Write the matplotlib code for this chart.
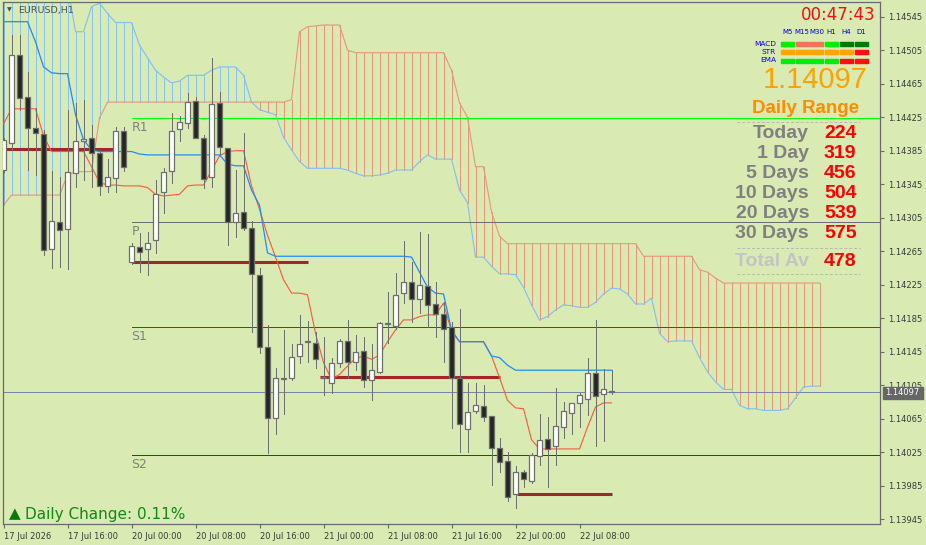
import numpy as np
import matplotlib
matplotlib.use("Agg")
import matplotlib.pyplot as plt
from matplotlib.patches import Rectangle

W, H = 926, 545
BG = '#d9eab3'
BASE = 1.14000   # prices below are stored in points (1e-5) above BASE
PX = 0.72        # one pixel line width at 100 dpi

# ---- EURUSD H1 candles, 17 Jul 08:00 .. 22 Jul 12:00
time_labels = ['17 Jul 2026', '17 Jul 16:00', '20 Jul 00:00', '20 Jul 08:00', '20 Jul 16:00',
               '21 Jul 00:00', '21 Jul 08:00', '21 Jul 16:00', '22 Jul 00:00', '22 Jul 08:00']
open_pts = [362, 394, 499, 449, 412, 405, 268, 300, 292, 358, 396, 400, 382, 343, 353, 409,
            252, 270, 268, 278, 336, 361, 411, 418, 444, 400, 354, 442, 388, 300, 312, 293, 237, 151, 66, 112, 114, 140, 157, 155,
            115, 108, 132, 158, 133, 146, 111, 121, 178, 176, 215, 228, 208, 224, 202, 190, 175, 114, 53, 74, 80, 68, 30, 15,
            -25, 1, -9, 20, 41, 32, 55, 72, 84, 89, 120, 95, 98]
high_pts = [400, 523, 523, 479, 436, 410, 361, 354, 434, 442, 446, 416, 386, 375, 413, 413,
            275, 287, 288, 350, 364, 430, 427, 454, 449, 404, 496, 455, 388, 362, 406, 301, 245, 177, 126, 171, 154, 189, 182, 169,
            163, 137, 160, 183, 165, 163, 154, 180, 216, 239, 277, 252, 288, 286, 228, 204, 180, 196, 108, 108, 105, 68, 42, 25,
            9, 4, 24, 71, 67, 102, 85, 84, 96, 137, 183, 124, 123]
low_pts = [360, 386, 434, 362, 356, 261, 245, 246, 244, 342, 350, 342, 332, 336, 336, 361,
           250, 240, 237, 263, 311, 347, 396, 412, 400, 341, 342, 380, 273, 282, 290, 169, 143, 24, 47, 71, 111, 132, 133, 126,
           93, 96, 127, 114, 123, 103, 87, 120, 155, 172, 203, 180, 191, 175, 163, 133, 54, 25, 25, 72, 62, -14, 1, -33,
           -42, -16, -12, 10, -16, 10, 42, 47, 55, 70, 32, 38, 95]
close_pts = [398, 499, 448, 412, 406, 267, 301, 290, 360, 397, 399, 382, 343, 354, 409, 366,
             271, 264, 275, 333, 360, 409, 419, 443, 400, 351, 441, 390, 300, 311, 293, 238, 151, 66, 114, 114, 139, 154, 158, 136,
             114, 132, 158, 133, 145, 111, 123, 179, 179, 213, 228, 208, 225, 201, 190, 172, 114, 59, 73, 81, 67, 30, 13, -28,
             1, -7, 22, 40, 29, 56, 74, 84, 93, 120, 92, 100, 97]

# ---- Ichimoku
tenkan_pts = [417, 435, 435, 435, 435, 403, 384, 384, 384, 384, 384, 366, 347, 344, 344, 343, 343, 343, 341, 333,
              331, 332, 333, 343, 344, 344, 361, 379, 384, 385, 385, 343, 315, 284, 258, 231, 215, 215, 213, 167,
              132, 112, 118, 128, 137, 140, 136, 141, 157, 171, 183, 183, 187, 189, 189, 203, 169, 157, 157, 157,
              157, 140, 114, 87, 78, 77, 40, 29, 29, 29, 29, 29, 29, 55, 79, 84, 84]
kijun_pts = [539, 539, 539, 539, 515, 485, 478, 477, 477, 428, 398, 386, 384, 384, 384, 384, 384, 381, 380, 380,
             380, 380, 380, 380, 380, 380, 380, 380, 369, 367, 367, 338, 320, 263, 259, 259, 259, 259, 259, 259,
             259, 259, 259, 259, 259, 259, 259, 259, 259, 259, 259, 258, 240, 222, 215, 214, 171, 157, 157, 157,
             157, 140, 138, 129, 123, 123, 123, 123, 123, 123, 123, 123, 123, 123, 123, 123, 123]
span_blue_pts = [583, 583, 583, 583, 583, 583, 583, 583, 583, 527, 527, 557, 561, 549, 538, 538, 538, 511, 496, 481,
                 473, 466, 468, 475, 475, 475, 481, 485, 485, 485, 475, 443, 434, 431, 428, 401, 386, 372, 364, 364,
                 364, 364, 364, 362, 358, 355, 355, 356, 358, 362, 362, 362, 372, 380, 375, 375, 375, 338, 323, 258,
                 258, 247, 238, 238, 237, 222, 201, 183, 187, 195, 201, 200, 198, 198, 204, 214, 221, 220, 214, 202,
                 202, 209, 167, 157, 158, 158, 158, 138, 121, 109, 100, 100, 81, 77, 77, 75, 75, 75, 77, 90,
                 103, 104, 104]
span_salmon_pts = [320, 332, 332, 332, 332, 332, 332, 332, 356, 360, 360, 360, 424, 443, 443, 443, 443, 443, 443, 443,
                   443, 443, 443, 443, 443, 443, 443, 443, 443, 443, 443, 443, 443, 443, 443, 443, 446, 527, 533, 534,
                   535, 535, 535, 505, 502, 502, 502, 502, 502, 502, 502, 502, 502, 502, 502, 502, 481, 442, 425, 366,
                   366, 312, 283, 274, 274, 274, 274, 274, 274, 274, 274, 274, 274, 274, 274, 274, 274, 274, 274, 274,
                   259, 259, 259, 259, 259, 259, 259, 243, 240, 233, 227, 227, 227, 227, 227, 227, 227, 227, 227, 227,
                   227, 227, 227]

# ---- levels
pivot_names = ['R1', 'P', 'S1', 'S2']
pivot_pts = [424, 300, 175, 22]
pivot_colors = ['#00ff00', '#6e6e6e', '#ff0000', '#c80000']
day_open_pts = [387, 252, 115, -25]
day_open_span = [(0.3, 13.7), (16, 38.1), (39.6, 62.1), (64.2, 76.1)]
last_price = 1.14097

# ---- info panel
tf_names = ['M5', 'M15', 'M30', 'H1', 'H4', 'D1']
signal_rows = ['MACD', 'STR', 'EMA']
signal_colors = [['#00ee00', '#f07458', '#f07458', '#00ee00', '#007a00', '#007a00'],
                 ['#ffa500', '#ffa500', '#ffa500', '#ffa500', '#ffa500', '#ff1010'],
                 ['#00ee00', '#00ee00', '#00ee00', '#00ee00', '#ff1010', '#ff1010']]
range_names = ['Today', '1 Day', '5 Days', '10 Days', '20 Days', '30 Days']
range_values = [224, 319, 456, 504, 539, 575]
total_av = 478
daily_change = 0.11
countdown = '00:47:43'


def price(pts):
    return BASE + np.asarray(pts, dtype=float) / 1e5


def fx(x):
    return x / W


def fy(y):
    return 1 - y / H


fig = plt.figure(figsize=(W / 100, H / 100), dpi=100, facecolor=BG)
ax = fig.add_axes([2.5 / W, 1 - 524 / H, 877.5 / W, 522 / H], facecolor=BG)
ax.set_xlim(-0.125, 109.56)
ax.set_ylim(1.139394, 1.145625)

# cloud
cx = np.arange(len(span_blue_pts))
sb = price(span_blue_pts)
ss = price(span_salmon_pts)
hatch_cols = np.where(sb >= ss, '#87c3f5', '#e8967a')
ax.vlines(cx, np.minimum(sb, ss), np.maximum(sb, ss), colors=hatch_cols, lw=PX, zorder=1, antialiased=False)
ax.plot(cx, sb, color='#7fbff5', lw=0.8, zorder=2)
ax.plot(cx, ss, color='#e8967a', lw=0.8, zorder=2)

# pivots
for name, lv, col in zip(pivot_names, pivot_pts, pivot_colors):
    ax.hlines(price(lv), 16, 120, colors=col, lw=PX, zorder=2, antialiased=False)
    ax.annotate(name, (16, price(lv)), xytext=(0, -3), textcoords='offset pixels',
                ha='left', va='top', fontsize=9, color='#808080', zorder=6)

# current price line
ax.axhline(last_price, color='#7888a0', lw=PX, zorder=2, antialiased=False)

# day opens
for lv, (a, b) in zip(day_open_pts, day_open_span):
    ax.hlines(price(lv), a, b, colors='#a3262a', lw=2.2, zorder=3)

# tenkan / kijun
bx = np.arange(len(open_pts))
ax.plot(bx, price(tenkan_pts), color='#f85a3e', lw=0.8, zorder=3)
ax.plot(bx, price(kijun_pts), color='#1e8cff', lw=0.9, zorder=3)

# candles
o, h, l, c = price(open_pts), price(high_pts), price(low_pts), price(close_pts)
ax.vlines(bx, l, h, colors='#6e6e6e', lw=PX, zorder=4, antialiased=False)
body_lo = np.minimum(o, c)
body_h = np.maximum(np.abs(c - o), 0.000012)
fills = np.where(c >= o, 'white', '#262626')
ax.bar(bx, body_h, bottom=body_lo, width=0.68, color=fills, edgecolor='#6e6e6e', linewidth=0.9, zorder=5)

# axes styling
for s in ax.spines.values():
    s.set_color('#6a6a6a')
    s.set_linewidth(0.9)
yt = 1.14545 - 0.0004 * np.arange(16)
ax.yaxis.tick_right()
ax.set_yticks(yt)
ax.set_yticklabels(['%.5f' % v for v in yt])
ax.set_xticks(np.arange(0, 80, 8))
ax.set_xticklabels(time_labels, ha='left')
ax.tick_params(axis='both', length=3, width=0.8, color='#6a6a6a', labelsize=6, labelcolor='#3a3a3a')
ax.tick_params(axis='y', pad=3)
ax.tick_params(axis='x', pad=3)

# price tag on axis (covers the lower part of the 1.14105 label, as in MT4)
fig.add_artist(Rectangle((fx(882.5), fy(398.5)), 40.5 / W, 11.5 / H, transform=fig.transFigure,
                         color='#666666', zorder=10))
fig.text(fx(902.5), fy(392.5), '%.5f' % last_price, ha='center', va='center', fontsize=6,
         color='white', zorder=11)

# header
fig.text(fx(7), fy(10), '\u25bc', fontsize=4.5, color='#505050', va='center', ha='left')
fig.text(fx(18), fy(10), 'EURUSD,H1', fontsize=6.8, color='#505050', va='center', ha='left')

# info panel
fig.text(fx(875), fy(15.5), countdown, fontsize=12, color='#f01010', ha='right', va='center')
col_x0 = [781, 795.7, 810.4, 825.1, 839.8, 854.5]
for k, name in enumerate(tf_names):
    fig.text(fx(col_x0[k] + 6.5), fy(32.5), name, fontsize=5, color='#0000e0', ha='center', va='center')
row_y = [43.5, 52, 60.5]
for r, rname in enumerate(signal_rows):
    fig.text(fx(776), fy(row_y[r]), rname, fontsize=5.3, color='#0000e0', ha='right', va='center')
    for k in range(6):
        fig.add_artist(Rectangle((fx(col_x0[k]), fy(row_y[r] + 2)), 13 / W, 4 / H,
                                 transform=fig.transFigure, color=signal_colors[r][k]))

fig.text(fx(868), fy(80), '%.5f' % last_price, fontsize=21, color='#ffa200', ha='right', va='center',
         family='Liberation Sans')
fig.text(fx(859), fy(108.5), 'Daily Range', fontsize=13.5, color='#ff8c00', ha='right', va='center',
         family='Liberation Sans', fontweight='bold')
for yy in (122, 248, 274):
    fig.add_artist(plt.Line2D([fx(737), fx(860)], [fy(yy), fy(yy)], transform=fig.transFigure,
                              color='#b8b8b8', lw=0.7, ls=(0, (3, 2))))
for k, (nm, val) in enumerate(zip(range_names, range_values)):
    yy = 134 + 20 * k
    fig.text(fx(809), fy(yy), nm, fontsize=14, color='#808080', ha='right', va='center',
             family='Liberation Sans', fontweight='bold')
    fig.text(fx(824), fy(yy), str(val), fontsize=14, color='#ff0000', ha='left', va='center',
             family='Liberation Sans', fontweight='bold')
fig.text(fx(809), fy(262), 'Total Av', fontsize=14, color='#c4c4c4', ha='right', va='center',
         family='Liberation Sans', fontweight='bold')
fig.text(fx(824), fy(262), str(total_av), fontsize=14, color='#ff0000', ha='left', va='center',
         family='Liberation Sans', fontweight='bold')

# daily change
fig.text(fx(9), fy(514), '\u25b2', fontsize=11, color='#0a7a0a', ha='left', va='center')
fig.text(fx(25), fy(514), 'Daily Change: %.2f%%' % daily_change, fontsize=11, color='#108a10',
         ha='left', va='center')

fig.savefig('out.png', dpi=100, facecolor=BG)
